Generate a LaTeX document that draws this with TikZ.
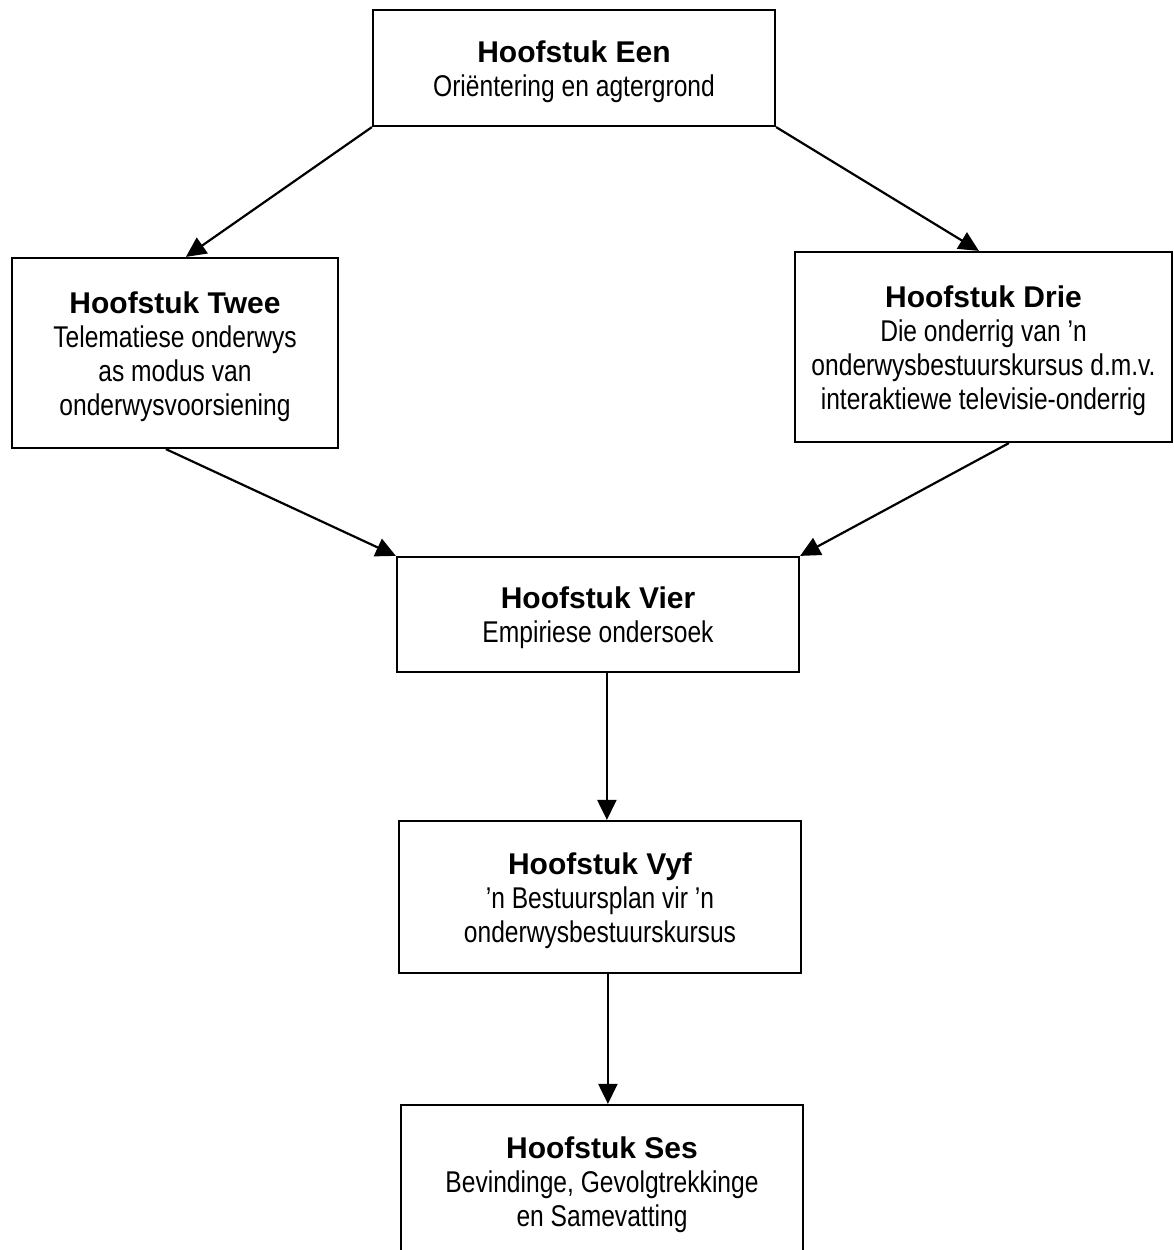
\documentclass[tikz,border=0pt]{standalone}
\usepackage{fontspec}
\setmainfont{Liberation Sans}
\newfontfamily\bodyfont{Liberation Sans}[FakeStretch=0.82]
\usetikzlibrary{arrows.meta}
\tikzset{
  chapbox/.style={draw, line width=2.2pt, inner sep=0pt, align=center,
    font=\fontsize{30}{34}\selectfont},
  flow/.style={line width=2.2pt, -{Triangle[length=20pt,width=19pt]}}
}
% title line gets a tall strut so the text block sits a little low in its box
\newcommand{\chaphead}{\bfseries\rule{0pt}{29pt}}
\newcommand{\chapbody}{\mdseries\bodyfont}
\begin{document}
\begin{tikzpicture}[x=1pt,y=-1pt]
  \useasboundingbox (0,0) rectangle (1174,1250);
  \clip (0,0) rectangle (1174,1250);

  \node[chapbox, minimum width=402pt, minimum height=116pt] (een) at (574,68)
    {\chaphead Hoofstuk Een\\\chapbody Oriëntering en agtergrond};
  \node[chapbox, minimum width=326pt, minimum height=190pt] (twee) at (175,353)
    {\chaphead Hoofstuk Twee\\\chapbody Telematiese onderwys\\\chapbody as modus van\\\chapbody onderwysvoorsiening};
  \node[chapbox, minimum width=377pt, minimum height=190pt] (drie) at (983.5,347)
    {\chaphead Hoofstuk Drie\\\chapbody Die onderrig van ’n\\\chapbody onderwysbestuurskursus d.m.v.\\\chapbody interaktiewe televisie-onderrig};
  \node[chapbox, minimum width=402pt, minimum height=115pt] (vier) at (598,614.5)
    {\chaphead Hoofstuk Vier\\\chapbody Empiriese ondersoek};
  \node[chapbox, minimum width=402pt, minimum height=152pt] (vyf) at (600,897)
    {\chaphead Hoofstuk Vyf\\\chapbody ’n Bestuursplan vir ’n\\\chapbody onderwysbestuurskursus};
  \node[chapbox, minimum width=402pt, minimum height=153pt] (ses) at (602,1181.5)
    {\chaphead Hoofstuk Ses\\\chapbody Bevindinge, Gevolgtrekkinge\\\chapbody en Samevatting};

  \draw[flow] (een.south west) -- ([xshift=175pt]twee.north west);
  \draw[flow] (een.south east) -- ([xshift=185pt]drie.north west);
  \draw[flow] ([xshift=155pt]twee.south west) -- (vier.north west);
  \draw[flow] ([xshift=215pt]drie.south west) -- (vier.north east);
  \draw[flow] ([xshift=211pt]vier.south west) -- ([xshift=209pt]vyf.north west);
  \draw[flow] ([xshift=210pt]vyf.south west) -- ([xshift=208pt]ses.north west);
\end{tikzpicture}
\end{document}
